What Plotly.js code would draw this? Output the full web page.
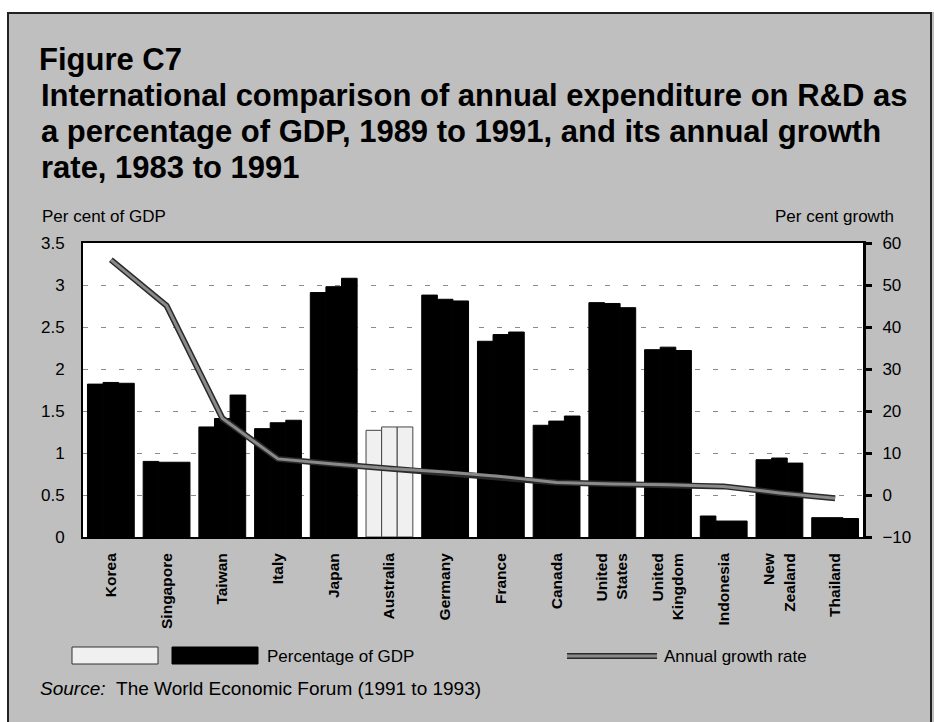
<!DOCTYPE html>
<html>
<head>
<meta charset="utf-8">
<script src="https://cdn.plot.ly/plotly-3.0.1.min.js"></script>
<style>html,body{margin:0;padding:0;background:#fff;}#chart{width:934px;height:722px;}</style>
</head>
<body>
<div id="chart"></div>
<script>
// ---- data ----
const countries = ["Korea","Singapore","Taiwan","Italy","Japan","Australia","Germany","France","Canada","United<br>States","United<br>Kingdom","Indonesia","New<br>Zealand","Thailand"];
const gdp1989 = [1.82, 0.90, 1.31, 1.29, 2.91, 1.27, 2.88, 2.33, 1.33, 2.79, 2.23, 0.25, 0.92, 0.23];
const gdp1990 = [1.84, 0.89, 1.41, 1.36, 2.98, 1.31, 2.83, 2.41, 1.38, 2.78, 2.26, 0.19, 0.94, 0.23];
const gdp1991 = [1.83, 0.89, 1.69, 1.39, 3.08, 1.31, 2.81, 2.44, 1.44, 2.73, 2.22, 0.19, 0.88, 0.22];
const growthRate = [56.0, 45.1, 18.3, 8.6, 7.4, 6.3, 5.5, 4.4, 3.0, 2.6, 2.45, 2.05, 0.5, -0.8];
const highlight = "Australia";
const titleLines = [
  "Figure C7",
  "International comparison of annual expenditure on R&D as",
  "a percentage of GDP, 1989 to 1991, and its annual growth",
  "rate, 1983 to 1991"
];

// ---- layout helpers (pixel -> paper) ----
const L = 83, R = 863, T = 243, B = 537;
const px = x => (x - L) / (R - L);
const py = y => (B - y) / (B - T);

const barColors = countries.map(c => c === highlight ? "#f0f0f0" : "#000000");
const barLines = countries.map(c => c === highlight ? "#444444" : "#000000");

function barTrace(vals, name) {
  return {
    type: "bar", x: countries, y: vals, name: name, showlegend: false,
    marker: { color: barColors, line: { color: barLines, width: 1 } },
    hoverinfo: "x+y"
  };
}

const traces = [
  barTrace(gdp1989, "1989"),
  barTrace(gdp1990, "1990"),
  barTrace(gdp1991, "1991"),
  { type: "scatter", mode: "lines", x: countries, y: growthRate, yaxis: "y2",
    line: { color: "#2a2a2a", width: 6 }, showlegend: false, hoverinfo: "skip" },
  { type: "scatter", mode: "lines", x: countries, y: growthRate, yaxis: "y2",
    name: "Annual growth rate", line: { color: "#8a8a8a", width: 3 }, showlegend: false }
];

const F = "Liberation Sans, Arial, sans-serif";
const bg = "#bfbfbf";
const TS = 31; // title font size
const titleCenters = [59, 95, 131, 167];

const annotations = titleLines.slice(1).map((t, i) => ({
  text: "<b>" + t + "</b>", xref: "paper", yref: "paper",
  x: px(39), y: py(titleCenters[i + 1]), xanchor: "left", yanchor: "middle",
  showarrow: false, font: { family: F, size: TS, color: "#000" }
}));

annotations.push(
  { text: "Per cent of GDP", xref: "paper", yref: "paper", x: px(40), y: py(217), xanchor: "left", yanchor: "middle", showarrow: false, font: { family: F, size: 17 } },
  { text: "Per cent growth", xref: "paper", yref: "paper", x: px(896), y: py(217), xanchor: "right", yanchor: "middle", showarrow: false, font: { family: F, size: 17 } },
  { text: "Percentage of GDP", xref: "paper", yref: "paper", x: px(265), y: py(656), xanchor: "left", yanchor: "middle", showarrow: false, font: { family: F, size: 17 } },
  { text: "Annual growth rate", xref: "paper", yref: "paper", x: px(662), y: py(656), xanchor: "left", yanchor: "middle", showarrow: false, font: { family: F, size: 17 } },
  { text: "<i>Source:</i>\u00a0\u00a0The World Economic Forum (1991 to 1993)", xref: "paper", yref: "paper", x: px(38), y: py(688), xanchor: "left", yanchor: "middle", showarrow: false, font: { family: F, size: 19 } }
);

const layout = {
  width: 934, height: 722,
  margin: { l: L, r: 934 - R, t: T, b: 722 - B, pad: 0 },
  paper_bgcolor: bg,
  plot_bgcolor: "#ffffff",
  font: { family: F, color: "#000" },
  title: {
    text: "<b>" + titleLines[0] + "</b>",
    font: { family: F, size: TS, color: "#000" },
    x: 39 / 934, xanchor: "left", xref: "container",
    y: 1 - titleCenters[0] / 722, yanchor: "middle", yref: "container"
  },
  barmode: "group",
  bargap: 0.16,
  bargroupgap: 0,
  xaxis: {
    type: "category",
    tickangle: -90,
    tickfont: { family: F, size: 15.5, color: "#000", weight: "bold" },
    showline: true, linecolor: "#000", linewidth: 2, mirror: true,
    ticks: "", showgrid: false, ticklabelstandoff: 8,
    fixedrange: true
  },
  yaxis: {
    range: [0, 3.5], dtick: 0.5, tick0: 0,
    tickfont: { family: F, size: 17, color: "#000" },
    showline: true, linecolor: "#000", linewidth: 2,
    showgrid: true, gridcolor: "#8a8a8a", gridwidth: 1, griddash: "5px,13px",
    zeroline: false, ticks: "", ticklabelstandoff: 13,
    fixedrange: true
  },
  yaxis2: {
    overlaying: "y", side: "right",
    range: [-10, 60], dtick: 10, tick0: -10,
    tickfont: { family: F, size: 17, color: "#000" },
    showline: true, linecolor: "#000", linewidth: 3,
    showgrid: false, zeroline: false,
    ticks: "outside", ticklen: 6, tickwidth: 3, tickcolor: "#000",
    ticklabelstandoff: 7, fixedrange: true
  },
  shapes: [
    { type: "rect", xref: "paper", yref: "paper", x0: px(0), x1: px(934), y0: py(0), y1: py(12), fillcolor: "#fff", line: { width: 0 }, layer: "below" },
    { type: "rect", xref: "paper", yref: "paper", x0: px(0), x1: px(7), y0: py(0), y1: py(722), fillcolor: "#fff", line: { width: 0 }, layer: "below" },
    { type: "rect", xref: "paper", yref: "paper", x0: px(8), x1: px(931), y0: py(13), y1: py(730), line: { color: "#222", width: 2 }, fillcolor: "rgba(0,0,0,0)" },
    { type: "rect", xref: "paper", yref: "paper", x0: px(72), x1: px(158), y0: py(664), y1: py(647), fillcolor: "#f0f0f0", line: { color: "#333", width: 1 } },
    { type: "rect", xref: "paper", yref: "paper", x0: px(172), x1: px(258), y0: py(664), y1: py(647), fillcolor: "#000", line: { color: "#000", width: 1 } },
    { type: "line", xref: "paper", yref: "paper", x0: px(567), x1: px(657), y0: py(656), y1: py(656), line: { color: "#2a2a2a", width: 6 } },
    { type: "line", xref: "paper", yref: "paper", x0: px(567), x1: px(657), y0: py(656), y1: py(656), line: { color: "#8a8a8a", width: 3 } }
  ],
  annotations: annotations
};

Plotly.newPlot("chart", traces, layout, { displayModeBar: false, staticPlot: true });
</script>
</body>
</html>
